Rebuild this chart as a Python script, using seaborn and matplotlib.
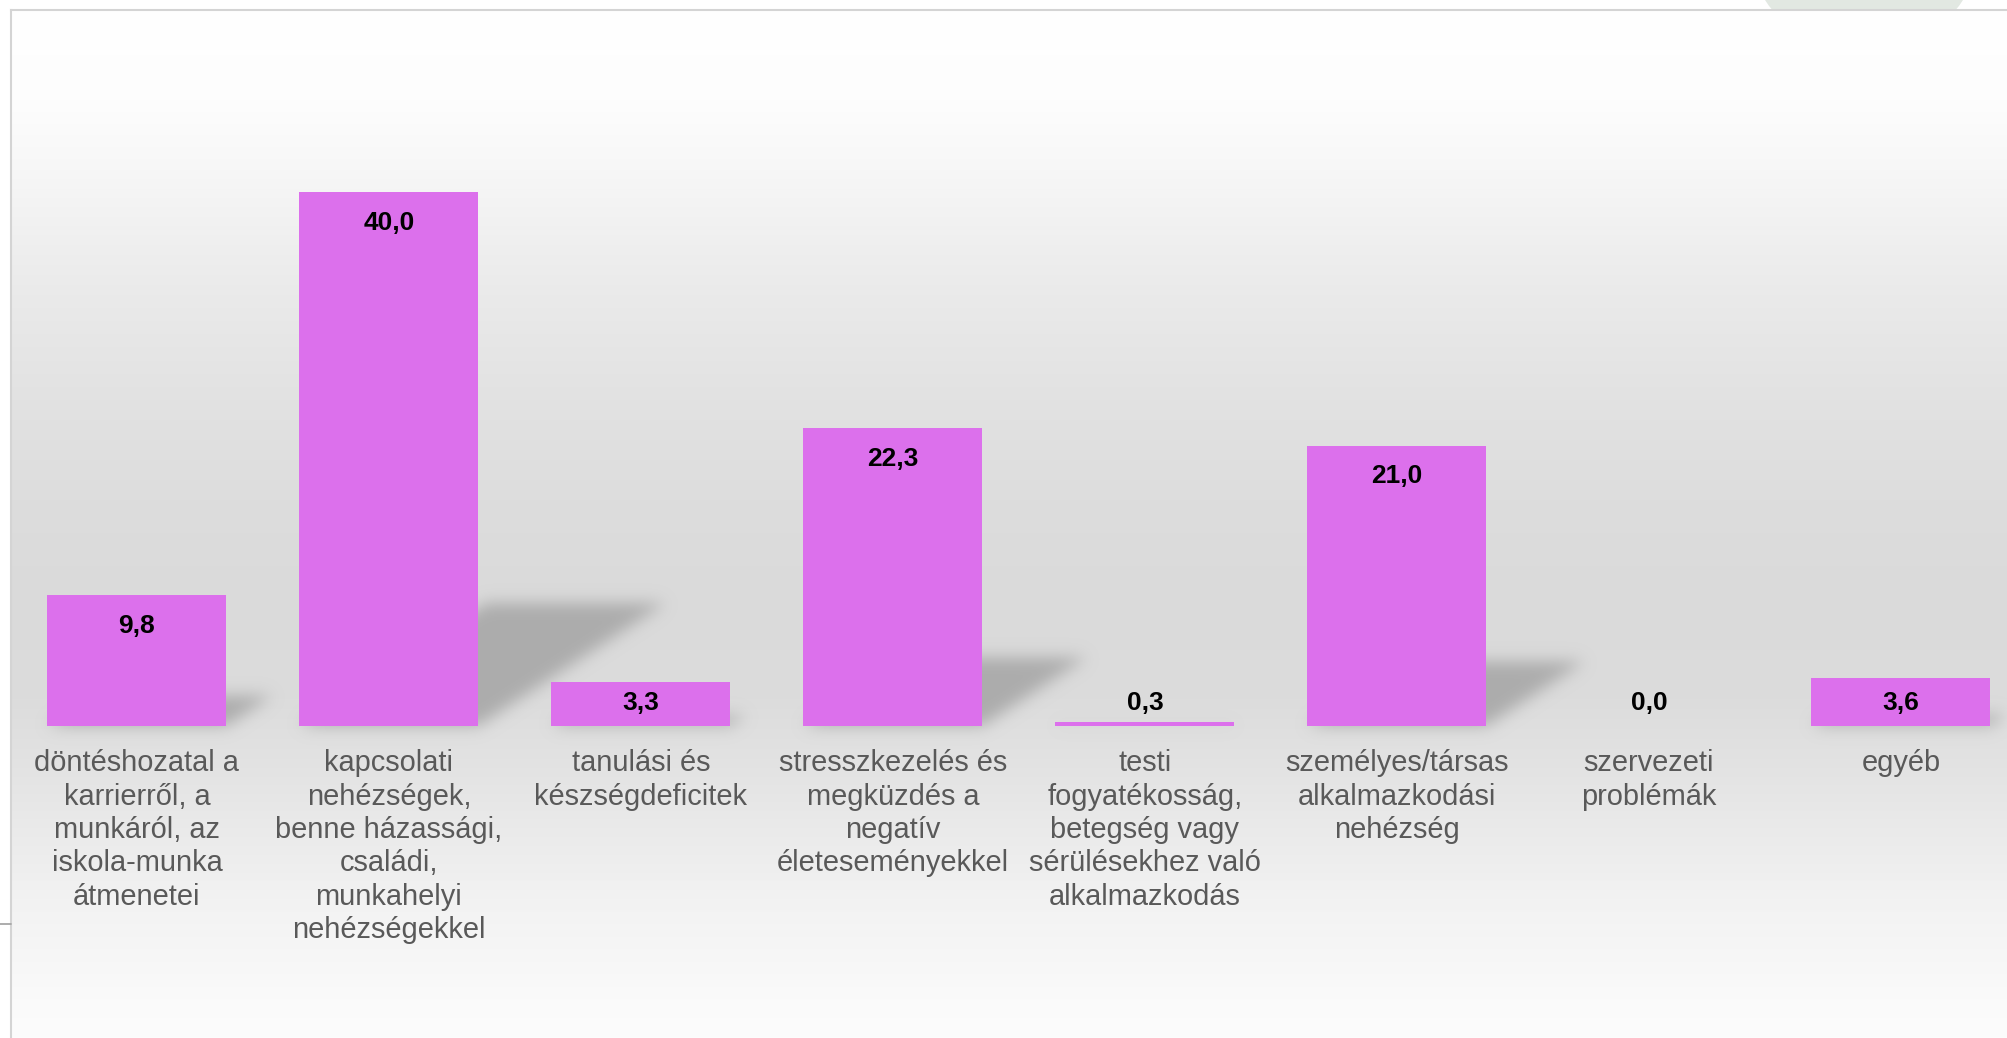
import numpy as np
import pandas as pd
import matplotlib
matplotlib.use("Agg")
import matplotlib.pyplot as plt
import seaborn as sns
from matplotlib.collections import PolyCollection
from matplotlib.patches import Ellipse
from matplotlib.lines import Line2D

# ---- data -------------------------------------------------------------
categories = [
    "döntéshozatal a\nkarrierről, a\nmunkáról, az\niskola-munka\nátmenetei",
    "kapcsolati\nnehézségek,\nbenne házassági,\ncsaládi,\nmunkahelyi\nnehézségekkel",
    "tanulási és\nkészségdeficitek",
    "stresszkezelés és\nmegküzdés a\nnegatív\néleteseményekkel",
    "testi\nfogyatékosság,\nbetegség vagy\nsérülésekhez való\nalkalmazkodás",
    "személyes/társas\nalkalmazkodási\nnehézség",
    "szervezeti\nproblémák",
    "egyéb",
]
values = [9.8, 40.0, 3.3, 22.3, 0.3, 21.0, 0.0, 3.6]

# ---- styling ----------------------------------------------------------
sns.set_theme(style="white")
plt.rcParams["font.family"] = ["Liberation Sans", "DejaVu Sans"]

BAR_COLOR = "#DC70EC"
LABEL_COLOR = "#595959"
SHADOW_RGB = np.array([0.675, 0.675, 0.675])

W, H = 2007, 1038
fig = plt.figure(figsize=(W / 100, H / 100), dpi=100)
fig.patch.set_facecolor("white")

# geometry in pixels
frame_top = 9.5
baseline = 725.7
px_per_unit = 13.335
pitch = 252.0
ax_left = 136.9 - pitch / 2

# decorative disc peeking above the frame
fig.patches.append(Ellipse((1864 / W, 1 + 65 / H), 2 * 118.5 / W, 2 * 118.5 / H,
                           transform=fig.transFigure, facecolor="#e2e8e2",
                           edgecolor="none", zorder=-1))

# background panel with vertical grey gradient
bg = fig.add_axes([ax_left / W, -0.03, (2060 - ax_left) / W, 1 - frame_top / H + 0.03])
stops_y = np.array([9.5, 100, 170, 235, 295, 400, 500, 600, 700, 760, 820, 900, 1000, 1038, 1070])
stops_g = np.array([255, 253, 247, 240, 234, 226, 221, 218, 220, 226, 233, 242, 250, 252, 253]) / 255
rows = np.linspace(frame_top, H + 0.03 * H, 600)
grey = np.interp(rows, stops_y, stops_g)
grad = np.repeat(grey[:, None], 2, axis=1)
bg.imshow(np.dstack([grad, grad, grad]), aspect="auto", extent=[0, 1, 0, 1],
          transform=bg.transAxes, interpolation="bilinear")
bg.set_xticks([])
bg.set_yticks([])
for side in ["right", "bottom"]:
    bg.spines[side].set_visible(False)
for side in ["left", "top"]:
    bg.spines[side].set_color("#d4d4d4")
    bg.spines[side].set_linewidth(1.5)

# small marker line outside the frame on the left
fig.add_artist(Line2D([0, ax_left / W], [1 - 924 / H] * 2, transform=fig.transFigure,
                      color="#a6a6a6", lw=1.3))

# main axes
ax = fig.add_axes([ax_left / W, 1 - baseline / H, 8 * pitch / W, (baseline - frame_top) / H])
ax.set_facecolor("none")
ax.patch.set_alpha(0)

df = pd.DataFrame({"kategoria": categories, "ertek": values})
sns.barplot(data=df, x="kategoria", y="ertek", color=BAR_COLOR, saturation=1,
            width=0.71, edgecolor="none", linewidth=0, ax=ax, zorder=3)

ymax = (baseline - frame_top) / px_per_unit
ax.set_xlim(-0.5, 7.5)
ax.set_ylim(0, ymax)
ax.set_xlabel("")
ax.set_ylabel("")
ax.set_yticks([])
for s in ax.spines.values():
    s.set_visible(False)
ax.tick_params(axis="x", length=0, pad=17.0, labelsize=20.9, labelcolor=LABEL_COLOR)
for lab in ax.get_xticklabels():
    lab.set_linespacing(1.245)


# blurred perspective shadows behind the bars
def blur_shadow(sigma_px):
    def _filter(img, dpi):
        pad = int(3 * sigma_px)
        ny, nx, _ = img.shape
        alpha = np.zeros((ny + 2 * pad, nx + 2 * pad))
        alpha[pad:pad + ny, pad:pad + nx] = img[:, :, 3]
        k = np.arange(-pad, pad + 1)
        kern = np.exp(-0.5 * (k / sigma_px) ** 2)
        kern /= kern.sum()
        tmp = np.zeros_like(alpha)
        for off, wgt in zip(k, kern):
            tmp += wgt * np.roll(alpha, off, axis=0)
        out = np.zeros_like(alpha)
        for off, wgt in zip(k, kern):
            out += wgt * np.roll(tmp, off, axis=1)
        res = np.zeros((alpha.shape[0], alpha.shape[1], 4))
        res[:, :, :3] = SHADOW_RGB
        res[:, :, 3] = np.clip(out, 0, 1)
        return res, -pad, -pad
    return _filter


half = 0.71 / 2
verts = []
for i, v in enumerate(values):
    if v <= 0:
        continue
    dx = 0.01855 * v
    hh = 0.23 * v
    verts.append([(i - half, 0), (i + half, 0), (i + half + dx, hh), (i - half + dx, hh)])
shadows = PolyCollection(verts, facecolors="#acacac", edgecolors="none", zorder=1)
shadows.set_agg_filter(blur_shadow(5.5))
ax.add_collection(shadows)

# value labels
for i, v in enumerate(values):
    y = max(v - 2.3, 1.72)
    ax.text(i, y, f"{v:.1f}".replace(".", ","), ha="center", va="center",
            fontsize=19, fontweight="bold", color="black", zorder=5)

fig.savefig("out.png", dpi=100)
